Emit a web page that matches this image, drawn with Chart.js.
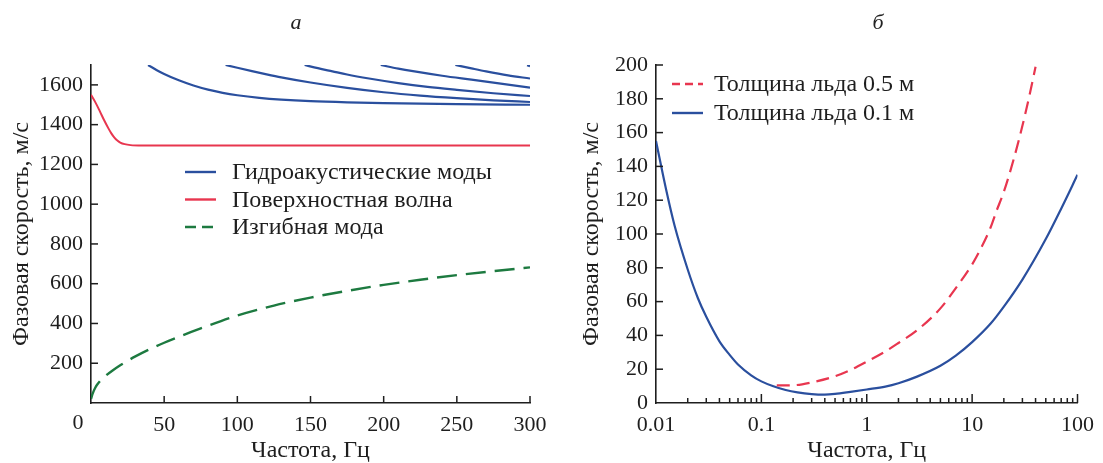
<!DOCTYPE html>
<html><head><meta charset="utf-8">
<script src="https://cdn.jsdelivr.net/npm/chart.js@4.4.1/dist/chart.umd.min.js"></script>
<style>
html,body{margin:0;padding:0;background:#fff;}
#wrap{position:relative;width:1103px;height:463px;overflow:hidden;background:#fff;}
canvas{position:absolute;top:0;}
.ttl{position:absolute;top:9px;width:30px;text-align:center;font:italic 22px 'Liberation Serif',serif;color:#222;line-height:26px;}
</style></head><body>
<div id="wrap">
<canvas id="cA" width="560" height="463" style="left:0"></canvas>
<canvas id="cB" width="543" height="463" style="left:560px"></canvas>
<div class="ttl" style="left:281px">а</div>
<div class="ttl" style="left:863px">б</div>
</div>
<script>
// ---------- Panel a data ----------
const mode1F = [39,45,50,60,70,80,90,100,115,130,150,175,200,250,300];
const mode1V = [1700,1674,1655,1623,1597,1576,1560,1548,1535,1526,1518,1512,1508,1503,1500];
const mode2F = [92,100,110,120,130,150,175,200,225,250,275,300];
const mode2V = [1700,1686,1669,1653,1638,1612,1585,1563,1546,1533,1522,1514];
const mode3F = [146,155,165,175,190,210,230,250,275,300];
const mode3V = [1700,1684,1668,1652,1632,1609,1590,1575,1558,1544];
const mode4F = [198,210,220,240,260,280,300];
const mode4V = [1700,1682,1669,1646,1626,1606,1586];
const mode5F = [249,260,270,285,300];
const mode5V = [1700,1683,1668,1648,1632];
const mode6F = [298,300];
const mode6V = [1699,1694];
const surfF = [0,3,6,9,12,14,16,18,20,23,27,35,300];
const surfV = [1550,1512,1468,1422,1380,1355,1335,1320,1310,1302,1297,1295,1295];
const flexF = [0,1,3,5,7,10,15,20,25,30,40,50,60,75,100,125,150,175,200,225,250,275,300];
const flexV = [20,45,78,100,117,137,165,190,212,233,270,303,333,375,440,490,530,564,594,620,643,663,682];
const leftXTicks = [0,50,100,150,200,250,300];
const leftYTicks = [200,400,600,800,1000,1200,1400,1600];
const leftLegend = ['Гидроакустические моды','Поверхностная волна','Изгибная мода'];

// ---------- Panel б data ----------
const thinF = [0.01,0.0125,0.015,0.02,0.025,0.03,0.04,0.05,0.06,0.08,0.1,0.13,0.17,0.22,0.3,0.4,0.5,0.7,1,1.5,2,3,5,7,10,15,20,30,50,70,100];
const thinV = [155,126,105,79,62,51,36.5,28.5,22.8,16.4,12.8,9.9,7.7,6.3,5.3,5.0,5.4,6.6,8.0,9.7,11.7,15.6,22,28,36,47,57,73,97,115,135];
const thickF = [0.14,0.2,0.3,0.5,0.7,1,1.5,2,3,5,7,10,12,15,17,20,25,30,35,40];
const thickV = [10.4,10.5,12.2,15.8,19.5,24.5,30.5,35.5,43,56,68,82,91,104,113.5,125,145,164,182,199];
const rightXDecades = [0.01,0.1,1,10];
const rightXMinorMult = [1,2,3,4,5,6,7,8,9];
const rightXLabels = ['0.01','0.1','1','10','100'];
const rightYTicks = [0,20,40,60,80,100,120,140,160,180,200];
const rightLegend = ['Толщина льда 0.5 м','Толщина льда 0.1 м'];

const BLUE = '#2a4f9e', RED = '#e8364f', GREEN = '#1d7a40', INK = '#1e1e1e';
const FONT = "'Liberation Serif','Times New Roman',serif";
const TICK_SIZE = 22, TEXT_SIZE = 24;
Chart.defaults.font.family = FONT;
Chart.defaults.font.size = TICK_SIZE;
Chart.defaults.color = INK;

const pts = (xs, ys) => xs.map((x, i) => ({x, y: ys[i]}));
const lineDs = (xs, ys, color, dash, w) => ({
  data: pts(xs, ys), borderColor: color, borderWidth: w || 2.2, borderDash: dash || [],
  pointRadius: 0, fill: false, cubicInterpolationMode: 'monotone', showLine: true
});

function tickPlugin(cfg) {
  return {
    id: 'inwardTicks',
    afterDatasetsDraw(chart) {
      const ctx = chart.ctx, ca = chart.chartArea, xs = chart.scales.x, ys = chart.scales.y;
      ctx.save();
      ctx.strokeStyle = INK; ctx.lineWidth = 1.5;
      xs.ticks.forEach(t => {
        if (t.value === xs.min) return;
        const px = xs.getPixelForValue(t.value);
        const len = cfg.isMajorX(t.value) ? cfg.xLen : cfg.xMinorLen;
        ctx.beginPath(); ctx.moveTo(px, ca.bottom); ctx.lineTo(px, ca.bottom - len); ctx.stroke();
      });
      ys.ticks.forEach(t => {
        if (t.value === ys.min) return;
        const py = ys.getPixelForValue(t.value);
        ctx.beginPath(); ctx.moveTo(ca.left, py); ctx.lineTo(ca.left + cfg.yLen, py); ctx.stroke();
      });
      ctx.restore();
    }
  };
}

function legendPlugin(items, cfg) {
  return {
    id: 'inLegend',
    afterDatasetsDraw(chart) {
      const ctx = chart.ctx;
      ctx.save();
      ctx.font = TEXT_SIZE + 'px ' + FONT;
      ctx.textBaseline = 'middle';
      ctx.fillStyle = INK;
      items.forEach((it, i) => {
        const y = cfg.y0 + i * cfg.dy;
        ctx.strokeStyle = it.color; ctx.lineWidth = 2.4; ctx.setLineDash(it.dash || []);
        ctx.beginPath(); ctx.moveTo(cfg.x0, y); ctx.lineTo(cfg.x0 + cfg.len, y); ctx.stroke();
        ctx.setLineDash([]);
        ctx.fillText(it.text, cfg.tx, y + 1);
      });
      ctx.restore();
    }
  };
}

const zeroLabelPlugin = {
  id: 'zeroLabel',
  afterDraw(chart) {
    const ctx = chart.ctx, xs = chart.scales.x;
    ctx.save();
    ctx.font = TICK_SIZE + 'px ' + FONT; ctx.fillStyle = INK;
    ctx.textAlign = 'center'; ctx.textBaseline = 'top';
    ctx.fillText(String(leftXTicks[0]), xs.getPixelForValue(leftXTicks[0]) - 13, xs.top + 9);
    ctx.restore();
  }
};

const axisTitle = (text, pad) => ({display: true, text, color: INK, font: {size: TEXT_SIZE, lineHeight: 1}, padding: pad});

// ---------- Chart a ----------
new Chart(document.getElementById('cA'), {
  type: 'scatter',
  data: {datasets: [
    lineDs(mode1F, mode1V, BLUE), lineDs(mode2F, mode2V, BLUE), lineDs(mode3F, mode3V, BLUE),
    lineDs(mode4F, mode4V, BLUE), lineDs(mode5F, mode5V, BLUE), lineDs(mode6F, mode6V, BLUE),
    lineDs(surfF, surfV, RED, [], 2),
    lineDs(flexF, flexV, GREEN, [20, 9], 2.4)
  ]},
  options: {
    responsive: false, animation: false,
    layout: {padding: {left: 0, top: 65, right: 30, bottom: 0}},
    plugins: {legend: {display: false}, tooltip: {enabled: false}},
    scales: {
      x: {
        type: 'linear', min: 0, max: 300,
        afterBuildTicks: s => { s.ticks = leftXTicks.map(v => ({value: v})); },
        afterFit: s => { s.height = 60; },
        ticks: {autoSkip: false, maxRotation: 0, padding: 9, callback: v => v === leftXTicks[0] ? '' : String(v)},
        grid: {display: true, drawOnChartArea: false, drawTicks: false},
        border: {display: true, color: INK, width: 1.6},
        title: axisTitle('Частота, Гц', {top: 0, bottom: 0})
      },
      y: {
        type: 'linear', min: 0, max: 1700,
        afterBuildTicks: s => { s.ticks = leftYTicks.map(v => ({value: v})); },
        afterFit: s => { s.width = 91; },
        ticks: {autoSkip: false, padding: 8, callback: v => String(v)},
        grid: {display: true, drawOnChartArea: false, drawTicks: false},
        border: {display: true, color: INK, width: 1.6},
        title: axisTitle('Фазовая скорость, м/с', {top: 10, bottom: 0})
      }
    }
  },
  plugins: [
    tickPlugin({isMajorX: () => true, xLen: 7, xMinorLen: 7, yLen: 7}),
    legendPlugin([
      {text: leftLegend[0], color: BLUE},
      {text: leftLegend[1], color: RED},
      {text: leftLegend[2], color: GREEN, dash: [11, 6]}
    ], {x0: 185, len: 31, tx: 232, y0: 172, dy: 27.5}),
    zeroLabelPlugin
  ]
});

// ---------- Chart б ----------
const logTicks = [];
rightXDecades.forEach(d => rightXMinorMult.forEach(m => logTicks.push(+(d * m).toPrecision(3))));
logTicks.push(100);
const isDecade = v => rightXLabels.includes(String(v));

new Chart(document.getElementById('cB'), {
  type: 'scatter',
  data: {datasets: [
    lineDs(thickF, thickV, RED, [13, 7], 2.2),
    lineDs(thinF, thinV, BLUE, [], 2.2)
  ]},
  options: {
    responsive: false, animation: false,
    layout: {padding: {left: 0, top: 65, right: 19, bottom: 0}},
    plugins: {legend: {display: false}, tooltip: {enabled: false}},
    scales: {
      x: {
        type: 'logarithmic', min: 0.01, max: 100,
        afterBuildTicks: s => { s.ticks = logTicks.map(v => ({value: v, major: isDecade(v)})); },
        afterFit: s => { s.height = 60; },
        ticks: {autoSkip: false, maxRotation: 0, padding: 9, callback: v => isDecade(v) ? String(v) : ''},
        grid: {display: true, drawOnChartArea: false, drawTicks: false},
        border: {display: true, color: INK, width: 1.6},
        title: axisTitle('Частота, Гц', {top: 0, bottom: 0})
      },
      y: {
        type: 'linear', min: 0, max: 200,
        afterBuildTicks: s => { s.ticks = rightYTicks.map(v => ({value: v})); },
        afterFit: s => { s.width = 96; },
        ticks: {autoSkip: false, padding: 8, callback: v => String(v)},
        grid: {display: true, drawOnChartArea: false, drawTicks: false},
        border: {display: true, color: INK, width: 1.6},
        title: axisTitle('Фазовая скорость, м/с', {top: 20, bottom: 0})
      }
    }
  },
  plugins: [
    tickPlugin({isMajorX: v => isDecade(v), xLen: 9, xMinorLen: 5, yLen: 7}),
    legendPlugin([
      {text: rightLegend[0], color: RED, dash: [8, 5]},
      {text: rightLegend[1], color: BLUE}
    ], {x0: 672 - 560, len: 31, tx: 714 - 560, y0: 84, dy: 29})
  ]
});
</script>
</body></html>
